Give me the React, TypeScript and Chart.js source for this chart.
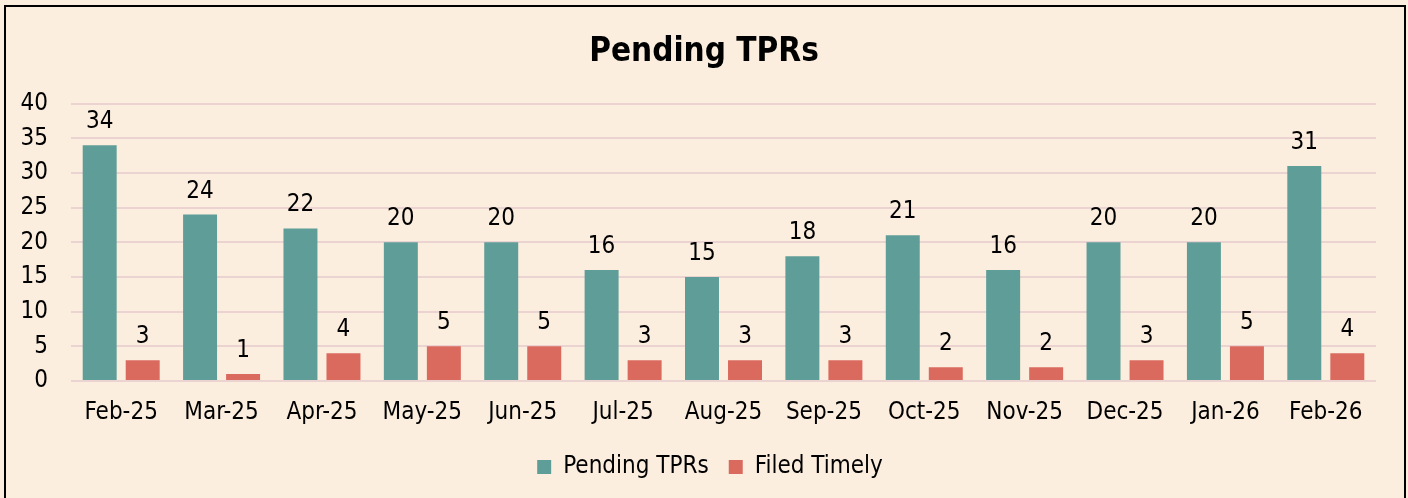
import React, { useEffect, useRef } from "react";
import { Chart, registerables } from "chart.js";

Chart.register(...registerables);

const categories = ["Feb-25", "Mar-25", "Apr-25", "May-25", "Jun-25", "Jul-25", "Aug-25", "Sep-25", "Oct-25", "Nov-25", "Dec-25", "Jan-26", "Feb-26"];
const pendingTPRs = [34, 24, 22, 20, 20, 16, 15, 18, 21, 16, 20, 20, 31];
const filedTimely = [3, 1, 4, 5, 5, 3, 3, 3, 2, 2, 3, 5, 4];
const yTicks = [0, 5, 10, 15, 20, 25, 30, 35, 40];

const FONT = "'DejaVu Sans Condensed', 'DejaVu Sans', sans-serif";
const BG = "#FCEEDE";

const dataLabelPlugin = {
  id: "dataLabels",
  afterDatasetsDraw(chart: any) {
    const ctx = chart.ctx;
    ctx.save();
    ctx.font = `24px ${FONT}`;
    ctx.fillStyle = "#000";
    ctx.textAlign = "center";
    ctx.textBaseline = "alphabetic";
    chart.data.datasets.forEach((ds: any, i: number) => {
      const meta = chart.getDatasetMeta(i);
      meta.data.forEach((bar: any, j: number) => {
        ctx.fillText(String(ds.data[j]), bar.x, bar.y - 17);
      });
    });
    ctx.restore();
  },
};

// Center title and legend on the full canvas width rather than the padded area
const centerBlocksPlugin = {
  id: "centerBlocks",
  afterLayout(chart: any) {
    if (chart.titleBlock) chart.titleBlock.left = 32;
    if (chart.legend) {
      chart.legend.left = 38;
      chart.legend.right = chart.width - 32 + 6;
    }
  },
};

export default function App() {
  const ref = useRef<HTMLCanvasElement>(null);
  useEffect(() => {
    document.body.style.margin = "0";
    const chart = new Chart(ref.current!, {
      type: "bar",
      data: {
        labels: categories,
        datasets: [
          { label: "Pending TPRs", data: pendingTPRs, backgroundColor: "#5F9E98", categoryPercentage: 0.857, barPercentage: 0.79 },
          { label: "Filed Timely", data: filedTimely, backgroundColor: "#DA6A5E", categoryPercentage: 0.857, barPercentage: 0.79 },
        ],
      },
      options: {
        animation: false,
        responsive: false,
        maintainAspectRatio: false,
        layout: { padding: { left: 0, right: 32, top: 0, bottom: 9 } },
        plugins: {
          title: {
            display: true,
            text: "Pending TPRs",
            color: "#000",
            font: { family: FONT, size: 33, weight: "bold" },
            padding: { top: 33, bottom: 31 },
          },
          legend: {
            display: true,
            position: "bottom",
            labels: {
              color: "#000",
              font: { family: FONT, size: 24 },
              boxWidth: 14,
              boxHeight: 14,
              padding: 20,
            },
          },
          tooltip: { enabled: false },
        },
        scales: {
          x: {
            grid: { display: false },
            border: { display: false },
            ticks: { color: "#000", font: { family: FONT, size: 24 }, padding: 9, maxRotation: 0 },
            afterFit: (s: any) => { s.height = 54; },
          },
          y: {
            min: 0,
            max: 40,
            afterBuildTicks: (s: any) => { s.ticks = yTicks.map((v) => ({ value: v })); },
            grid: { color: "#EBD3D2", lineWidth: 2, drawTicks: false },
            border: { display: false },
            ticks: { color: "#000", font: { family: FONT, size: 24 }, padding: 23 },
            afterFit: (s: any) => { s.width = 71; },
          },
        },
      },
      plugins: [dataLabelPlugin, centerBlocksPlugin],
    });
    return () => chart.destroy();
  }, []);
  return (
    <div style={{ position: "relative", width: 1408, height: 498, background: BG, overflow: "hidden" }}>
      <div style={{ position: "absolute", left: 4, top: 5, width: 1402, height: 520, borderLeft: "2px solid #000", borderTop: "2px solid #000", borderRight: "2px solid #000", boxSizing: "border-box" }} />
      <canvas ref={ref} width={1408} height={498} style={{ position: "absolute", left: 0, top: 0 }} />
    </div>
  );
}
